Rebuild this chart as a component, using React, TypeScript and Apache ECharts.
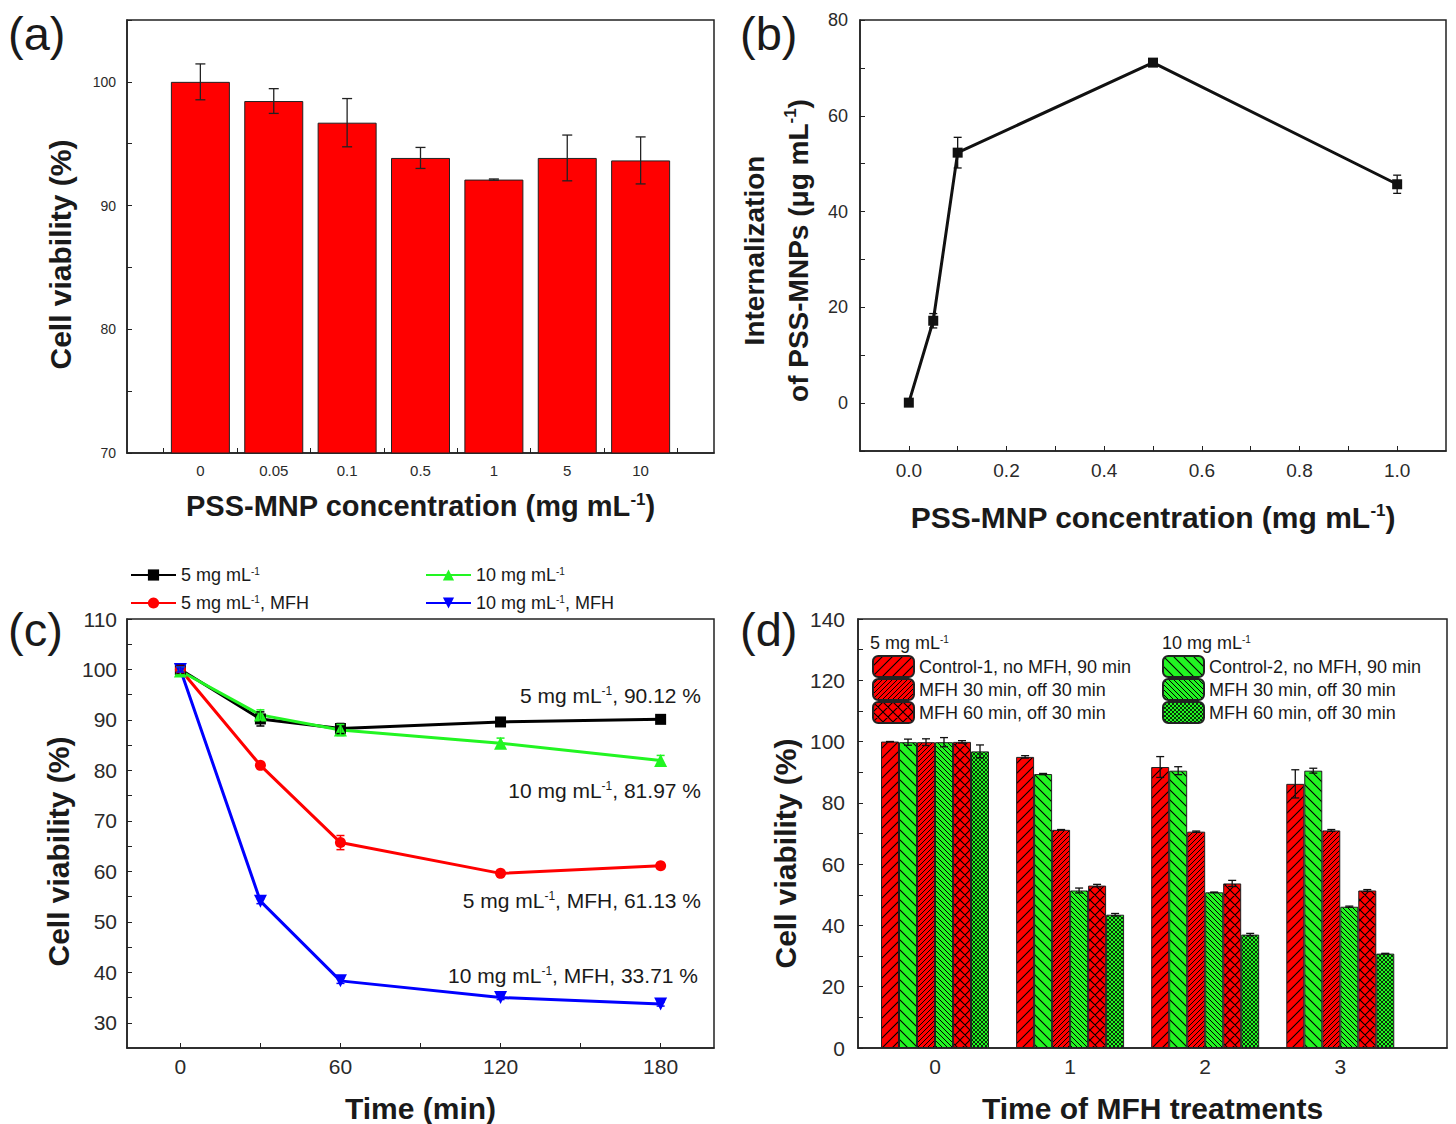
import React, { useEffect, useRef } from 'react';
import * as echarts from 'echarts';

const SANS = "'Liberation Sans', Arial, Helvetica, sans-serif";

// ---------- (a) ----------
const aCategories = ['0', '0.05', '0.1', '0.5', '1', '5', '10'];
const aViability = [100, 98.45, 96.7, 93.85, 92.1, 93.85, 93.65];
const aError = [1.45, 1.0, 1.95, 0.85, 0.05, 1.85, 1.9];

// ---------- (b) ----------
const bConc = [0, 0.05, 0.1, 0.5, 1.0];
const bUptake = [0.1, 17.2, 52.3, 71.1, 45.7];
const bError = [0.3, 1.5, 3.2, 0.7, 1.9];

// ---------- (c) ----------
const cTime = [0, 30, 60, 120, 180];
const c5 = [100, 90.2, 88.3, 89.6, 90.12];
const c5Err = [0.8, 1.4, 1.0, 0.4, 0.4];
const c10 = [99.7, 91.0, 88.0, 85.4, 81.97];
const c10Err = [0.8, 1.0, 1.1, 1.0, 1.0];
const c5MFH = [100, 81.0, 65.7, 59.6, 61.13];
const c5MFHErr = [0.6, 0.5, 1.4, 0.5, 0.5];
const c10MFH = [100, 54.1, 38.3, 35.0, 33.71];
const c10MFHErr = [0.5, 0.5, 0.5, 0.4, 0.4];

// ---------- (d) ----------
const dTreatments = [0, 1, 2, 3];
const dControl1 = [100, 95.0, 91.7, 86.2];
const dControl1Err = [0, 0.4, 3.4, 4.6];
const dControl2 = [99.8, 89.4, 90.5, 90.5];
const dControl2Err = [1.0, 0.2, 1.3, 0.8];
const dMFH30a = [99.8, 71.2, 70.6, 71.0];
const dMFH30aErr = [1.1, 0.1, 0.2, 0.3];
const dMFH30b = [99.8, 51.4, 50.8, 46.1];
const dMFH30bErr = [1.5, 0.8, 0.1, 0.2];
const dMFH60a = [99.9, 53.0, 53.7, 51.4];
const dMFH60aErr = [0.4, 0.4, 1.0, 0.3];
const dMFH60b = [96.8, 43.5, 37.0, 30.8];
const dMFH60bErr = [2.1, 0.4, 0.4, 0.1];

const RED = '#ff0000';
const GREEN = '#22f522';
const BLUE = '#0000ff';
const INK = '#1a1a1a';

function hatch(bg: string, kind: string, s: number, lw: number) {
  const fwd = `M0 ${s} L${s} 0 M-1 1 L1 -1 M${s - 1} ${s + 1} L${s + 1} ${s - 1}`;
  const back = `M0 0 L${s} ${s} M-1 ${s - 1} L1 ${s + 1} M${s - 1} -1 L${s + 1} 1`;
  const d = kind === 'fwd' ? fwd : kind === 'back' ? back : fwd + ' ' + back;
  const svg = `<svg xmlns="http://www.w3.org/2000/svg" width="${s}" height="${s}"><rect width="${s}" height="${s}" fill="${bg}"/><path d="${d}" stroke="#000" stroke-width="${lw}" fill="none"/></svg>`;
  return {
    image: 'data:image/svg+xml;charset=utf-8,' + encodeURIComponent(svg),
    repeat: 'repeat',
    imageWidth: s,
    imageHeight: s,
  };
}

const supStyle = (fs: number, bold: boolean) => ({
  fontSize: fs,
  fontFamily: SANS,
  fontWeight: bold ? 'bold' : 'normal',
  verticalAlign: 'top',
  color: INK,
});

const errRender = (color: string, cap: number, lw: number, barW?: number) => (params: any, api: any) => {
  const x = api.value(0);
  const y = api.value(1);
  const e = api.value(2);
  const idx = api.value(3);
  const dx = barW ? (idx - 2.5) * barW : 0;
  const p1 = api.coord([x, y + e]);
  const p2 = api.coord([x, y - e]);
  const cx = p1[0] + dx;
  const st = { stroke: color, lineWidth: lw };
  return {
    type: 'group',
    children: [
      { type: 'line', shape: { x1: cx, y1: p1[1], x2: cx, y2: p2[1] }, style: st },
      { type: 'line', shape: { x1: cx - cap, y1: p1[1], x2: cx + cap, y2: p1[1] }, style: st },
      { type: 'line', shape: { x1: cx - cap, y1: p2[1], x2: cx + cap, y2: p2[1] }, style: st },
    ],
  };
};

const legendLabels: Record<string, string> = {
  c5: '5 mg mL{sup|-1}',
  c5mfh: '5 mg mL{sup|-1}, MFH',
  c10: '10 mg mL{sup|-1}',
  c10mfh: '10 mg mL{sup|-1}, MFH',
  d_c1: 'Control-1, no MFH, 90 min',
  d_m30a: 'MFH 30 min, off 30 min',
  d_m60a: 'MFH 60 min, off 30 min',
  d_c2: 'Control-2, no MFH, 90 min',
  d_m30b: 'MFH 30 min, off 30 min',
  d_m60b: 'MFH 60 min, off 30 min',
};

function buildOption() {
  const axisLine = { show: true, onZero: false, lineStyle: { color: '#222', width: 1.5 } };
  const nameStyle = (fs: number, extra: any = {}) => ({
    fontSize: fs,
    fontWeight: 'bold',
    fontFamily: SANS,
    color: INK,
    rich: { sup: supStyle(17, true) },
    ...extra,
  });
  const tickLabel = (fs: number, margin: number, extra: any = {}) => ({
    fontSize: fs,
    fontFamily: SANS,
    color: '#2a2a2a',
    margin,
    ...extra,
  });
  const gridBase = { show: true, borderColor: '#222', borderWidth: 1.5, backgroundColor: 'transparent' };

  const dNames = ['d_c1', 'd_c2', 'd_m30a', 'd_m30b', 'd_m60a', 'd_m60b'];
  const dValues = [dControl1, dControl2, dMFH30a, dMFH30b, dMFH60a, dMFH60b];
  const dErrors = [dControl1Err, dControl2Err, dMFH30aErr, dMFH30bErr, dMFH60aErr, dMFH60bErr];
  const dFills = [
    hatch(RED, 'fwd', 10, 1.1),
    hatch(GREEN, 'back', 10, 1.1),
    hatch(RED, 'fwd', 5, 1),
    hatch(GREEN, 'back', 5, 1),
    hatch(RED, 'cross', 10, 1.1),
    hatch(GREEN, 'cross', 4, 0.8),
  ];
  const BARW = 18;

  const dBarSeries = dNames.map((n, i) => ({
    name: n,
    type: 'bar',
    xAxisIndex: 3,
    yAxisIndex: 3,
    barWidth: BARW,
    barGap: '0%',
    data: dTreatments.map((t, j) => [t, dValues[i][j]]),
    itemStyle: { color: dFills[i], borderColor: '#222', borderWidth: 1 },
    z: 2,
  }));
  const dErrData: number[][] = [];
  dNames.forEach((_, i) => dTreatments.forEach((t, j) => dErrData.push([t, dValues[i][j], dErrors[i][j], i])));

  const cSeriesDefs = [
    { name: 'c5', data: c5, err: c5Err, color: '#000', symbol: 'rect', size: 11, rot: 0 },
    { name: 'c5mfh', data: c5MFH, err: c5MFHErr, color: RED, symbol: 'circle', size: 11, rot: 0 },
    { name: 'c10', data: c10, err: c10Err, color: GREEN, symbol: 'triangle', size: 13, rot: 0 },
    { name: 'c10mfh', data: c10MFH, err: c10MFHErr, color: BLUE, symbol: 'triangle', size: 13, rot: 180 },
  ];
  const cLineSeries: any[] = [];
  cSeriesDefs.forEach((s) => {
    cLineSeries.push({
      name: s.name,
      type: 'line',
      xAxisIndex: 2,
      yAxisIndex: 2,
      data: cTime.map((t, j) => [t, s.data[j]]),
      symbol: s.symbol,
      symbolSize: s.size,
      symbolRotate: s.rot,
      showAllSymbol: true,
      lineStyle: { color: s.color, width: 3 },
      itemStyle: { color: s.color },
      z: 3,
    });
    cLineSeries.push({
      type: 'custom',
      xAxisIndex: 2,
      yAxisIndex: 2,
      data: cTime.map((t, j) => [t, s.data[j], s.err[j]]),
      encode: { x: 0, y: 1 },
      renderItem: errRender(s.color, 4, 1.5),
      z: 4,
    });
  });

  const legendText = (fs: number, lh?: number) => ({
    fontSize: fs,
    fontFamily: SANS,
    color: INK,
    ...(lh ? { lineHeight: lh } : {}),
    rich: { sup: { ...supStyle(10, false), ...(lh ? { lineHeight: lh - 6 } : {}) } },
  });

  const annot = (text: string, x: number, y: number) => ({
    type: 'text',
    x,
    y,
    style: {
      text,
      fontSize: 21,
      fontFamily: SANS,
      fill: INK,
      align: 'right',
      verticalAlign: 'middle',
      rich: { sup: { ...supStyle(12, false), fill: INK } },
    },
  });
  const panelLabel = (t: string, x: number, y: number) => ({
    type: 'text',
    x,
    y,
    style: { text: t, fontSize: 47, fontFamily: SANS, fill: INK },
  });

  const legendBase = { orient: 'vertical', selectedMode: false, padding: 0, formatter: (n: string) => legendLabels[n] };

  return {
    animation: false,
    backgroundColor: '#fff',
    grid: [
      { ...gridBase, left: 127, top: 20, width: 587, height: 433 },
      { ...gridBase, left: 860, top: 20, width: 586, height: 431 },
      { ...gridBase, left: 127, top: 619, width: 587, height: 431 },
      { ...gridBase, left: 858, top: 619, width: 589, height: 431 },
    ],
    xAxis: [
      {
        gridIndex: 0,
        type: 'value',
        min: -1,
        max: 7,
        axisLine,
        splitLine: { show: false },
        axisTick: { inside: true, length: 5, lineStyle: { color: '#222' }, customValues: [-0.5, 0.5, 1.5, 2.5, 3.5, 4.5, 5.5, 6.5] },
        axisLabel: tickLabel(15, 10, {
          customValues: [0, 1, 2, 3, 4, 5, 6],
          formatter: (v: number) => aCategories[Math.round(v)] ?? '',
        }),
        name: 'PSS-MNP concentration (mg mL{sup|-1})',
        nameLocation: 'middle',
        nameGap: 38,
        nameTextStyle: nameStyle(29),
      },
      {
        gridIndex: 1,
        type: 'value',
        min: -0.1,
        max: 1.1,
        axisLine,
        splitLine: { show: false },
        axisTick: {
          inside: true,
          length: 5,
          lineStyle: { color: '#222' },
          customValues: [0, 0.1, 0.2, 0.3, 0.4, 0.5, 0.6, 0.7, 0.8, 0.9, 1.0],
        },
        axisLabel: tickLabel(19, 10, {
          customValues: [0, 0.2, 0.4, 0.6, 0.8, 1.0],
          formatter: (v: number) => v.toFixed(1),
        }),
        name: 'PSS-MNP concentration (mg mL{sup|-1})',
        nameLocation: 'middle',
        nameGap: 51,
        nameTextStyle: nameStyle(30),
      },
      {
        gridIndex: 2,
        type: 'value',
        min: -20,
        max: 200,
        axisLine,
        splitLine: { show: false },
        axisTick: { inside: true, length: 5, lineStyle: { color: '#222' }, customValues: [0, 30, 60, 90, 120, 150, 180] },
        axisLabel: tickLabel(21, 8, { customValues: [0, 60, 120, 180] }),
        name: 'Time (min)',
        nameLocation: 'middle',
        nameGap: 45,
        nameTextStyle: nameStyle(30),
      },
      {
        gridIndex: 3,
        type: 'value',
        min: -0.57,
        max: 3.79,
        axisLine,
        splitLine: { show: false },
        axisTick: { inside: true, length: 5, lineStyle: { color: '#222' }, customValues: [0, 1, 2, 3] },
        axisLabel: tickLabel(21, 8, { customValues: [0, 1, 2, 3] }),
        name: 'Time of MFH treatments',
        nameLocation: 'middle',
        nameGap: 45,
        nameTextStyle: nameStyle(30),
      },
    ],
    yAxis: [
      {
        gridIndex: 0,
        type: 'value',
        min: 70,
        max: 105,
        axisLine,
        splitLine: { show: false },
        axisTick: { inside: true, length: 5, lineStyle: { color: '#222' }, customValues: [70, 75, 80, 85, 90, 95, 100, 105] },
        axisLabel: tickLabel(14, 11, { customValues: [70, 80, 90, 100] }),
        name: 'Cell viability (%)',
        nameLocation: 'middle',
        nameGap: 52,
        nameTextStyle: nameStyle(30, { padding: [0, 36, 0, 0] }),
      },
      {
        gridIndex: 1,
        type: 'value',
        min: -10,
        max: 80,
        axisLine,
        splitLine: { show: false },
        axisTick: {
          inside: true,
          length: 5,
          lineStyle: { color: '#222' },
          customValues: [-10, 0, 10, 20, 30, 40, 50, 60, 70, 80],
        },
        axisLabel: tickLabel(18, 12, { customValues: [0, 20, 40, 60, 80] }),
        name: '{n|Internalization}\n{n|of PSS-MNPs (\u03bcg mL}{s|-1}{n|)}',
        nameLocation: 'middle',
        nameGap: 40,
        nameTextStyle: {
          fontSize: 28,
          fontWeight: 'bold',
          fontFamily: SANS,
          color: INK,
          padding: [0, 30, 0, 0],
          rich: {
            n: { fontSize: 28, fontWeight: 'bold', fontFamily: SANS, color: INK, lineHeight: 44 },
            s: { fontSize: 17, fontWeight: 'bold', fontFamily: SANS, color: INK, verticalAlign: 'top', padding: [6, 0, 0, 0] },
          },
        },
      },
      {
        gridIndex: 2,
        type: 'value',
        min: 25,
        max: 110,
        axisLine,
        splitLine: { show: false },
        axisTick: {
          inside: true,
          length: 5,
          lineStyle: { color: '#222' },
          customValues: [30, 35, 40, 45, 50, 55, 60, 65, 70, 75, 80, 85, 90, 95, 100, 105, 110],
        },
        axisLabel: tickLabel(21, 10, { customValues: [30, 40, 50, 60, 70, 80, 90, 100, 110] }),
        name: 'Cell viability (%)',
        nameLocation: 'middle',
        nameGap: 54,
        nameTextStyle: nameStyle(30, { padding: [0, 36, 0, 0] }),
      },
      {
        gridIndex: 3,
        type: 'value',
        min: 0,
        max: 140,
        axisLine,
        splitLine: { show: false },
        axisTick: {
          inside: true,
          length: 5,
          lineStyle: { color: '#222' },
          customValues: [0, 10, 20, 30, 40, 50, 60, 70, 80, 90, 100, 110, 120, 130, 140],
        },
        axisLabel: tickLabel(21, 13, { customValues: [0, 20, 40, 60, 80, 100, 120, 140] }),
        name: 'Cell viability (%)',
        nameLocation: 'middle',
        nameGap: 58,
        nameTextStyle: nameStyle(30, { padding: [0, 40, 0, 0] }),
      },
    ],
    legend: [
      {
        ...legendBase,
        left: 130,
        top: 566,
        itemGap: 10,
        itemWidth: 45,
        itemHeight: 14,
        data: ['c5', 'c5mfh'],
        textStyle: legendText(18, 17),
      },
      {
        ...legendBase,
        left: 425,
        top: 566,
        itemGap: 10,
        itemWidth: 45,
        itemHeight: 14,
        data: ['c10', 'c10mfh'],
        textStyle: legendText(18, 17),
      },
      {
        ...legendBase,
        left: 872,
        top: 655,
        itemGap: 0,
        itemWidth: 41,
        itemHeight: 21,
        data: ['d_c1', 'd_m30a', 'd_m60a'],
        textStyle: legendText(18, 21),
      },
      {
        ...legendBase,
        left: 1162,
        top: 655,
        itemGap: 0,
        itemWidth: 41,
        itemHeight: 21,
        data: ['d_c2', 'd_m30b', 'd_m60b'],
        textStyle: legendText(18, 21),
      },
    ],
    graphic: [
      panelLabel('(a)', 8, 10),
      panelLabel('(b)', 740, 10),
      panelLabel('(c)', 8, 606),
      panelLabel('(d)', 740, 606),
      annot('5 mg mL{sup|-1}, 90.12 %', 701, 695),
      annot('10 mg mL{sup|-1}, 81.97 %', 701, 790),
      annot('5 mg mL{sup|-1}, MFH, 61.13 %', 701, 900),
      annot('10 mg mL{sup|-1}, MFH, 33.71 %', 698, 975),
      {
        type: 'text',
        x: 870,
        y: 643,
        style: {
          text: '5 mg mL{sup|-1}',
          fontSize: 18,
          fontFamily: SANS,
          fill: INK,
          verticalAlign: 'middle',
          rich: { sup: { ...supStyle(10, false), fill: INK } },
        },
      },
      {
        type: 'text',
        x: 1162,
        y: 643,
        style: {
          text: '10 mg mL{sup|-1}',
          fontSize: 18,
          fontFamily: SANS,
          fill: INK,
          verticalAlign: 'middle',
          rich: { sup: { ...supStyle(10, false), fill: INK } },
        },
      },
    ],
    series: [
      {
        type: 'bar',
        xAxisIndex: 0,
        yAxisIndex: 0,
        barWidth: 59,
        clip: true,
        data: aViability.map((v, i) => [i, v]),
        itemStyle: { color: RED, borderColor: '#222', borderWidth: 1 },
        z: 2,
      },
      {
        type: 'custom',
        xAxisIndex: 0,
        yAxisIndex: 0,
        data: aViability.map((v, i) => [i, v, aError[i]]),
        encode: { x: 0, y: 1 },
        renderItem: errRender('#222', 5, 1.3),
        z: 5,
      },
      {
        type: 'line',
        xAxisIndex: 1,
        yAxisIndex: 1,
        data: bConc.map((x, i) => [x, bUptake[i]]),
        symbol: 'rect',
        symbolSize: 10,
        lineStyle: { color: '#111', width: 3 },
        itemStyle: { color: '#111' },
        z: 3,
      },
      {
        type: 'custom',
        xAxisIndex: 1,
        yAxisIndex: 1,
        data: bConc.map((x, i) => [x, bUptake[i], bError[i]]),
        encode: { x: 0, y: 1 },
        renderItem: errRender('#111', 4, 1.3),
        z: 4,
      },
      ...cLineSeries,
      ...dBarSeries,
      {
        type: 'custom',
        xAxisIndex: 3,
        yAxisIndex: 3,
        data: dErrData,
        encode: { x: 0, y: 1 },
        renderItem: errRender('#111', 4, 1.3, BARW),
        z: 5,
      },
    ],
  };
}

export default function App() {
  const ref = useRef<HTMLDivElement>(null);
  useEffect(() => {
    document.body.style.margin = '0';
    if (!ref.current) return;
    const chart = echarts.init(ref.current, null, { renderer: 'svg' });
    chart.setOption(buildOption() as any);
    return () => chart.dispose();
  }, []);
  return <div ref={ref} style={{ width: 1456, height: 1124, background: '#fff' }} />;
}
